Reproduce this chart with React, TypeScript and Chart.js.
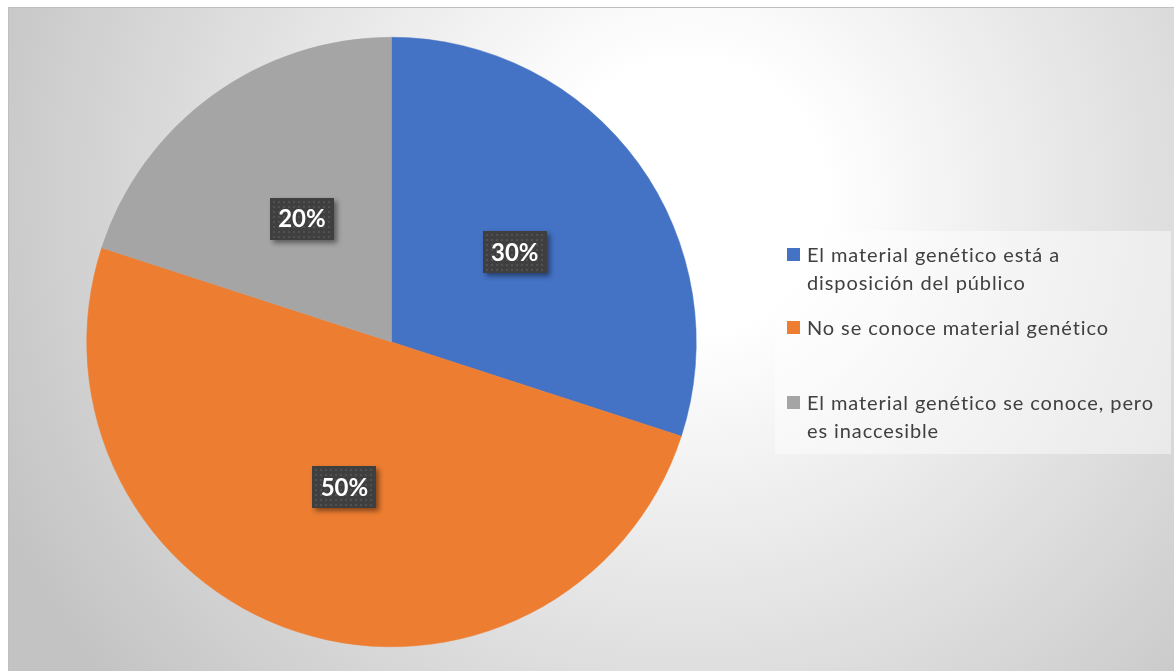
import React, { useEffect, useRef } from "react";
import { Chart, registerables } from "chart.js";

Chart.register(...registerables);

const categories: string[][] = [
  ["El material genético está a", "disposición del público"],
  ["No se conoce material genético"],
  ["El material genético se conoce, pero", "es inaccesible"],
];
const values: number[] = [30, 50, 20];
const percentLabels: string[] = ["30%", "50%", "20%"];
const colors: string[] = ["#4472C4", "#ED7D31", "#A5A5A5"];

const FONT = "Lato, 'Open Sans', sans-serif";

const bgPlugin = {
  id: "bgPlugin",
  beforeDraw(chart: any) {
    const { ctx, width, height } = chart;
    ctx.save();
    const g = ctx.createRadialGradient(680, 190, 0, 680, 190, 760);
    g.addColorStop(0, "#ffffff");
    g.addColorStop(0.18, "#ffffff");
    g.addColorStop(1, "#c3c3c3");
    ctx.fillStyle = g;
    ctx.fillRect(0, 0, width, height);
    ctx.strokeStyle = "#bfbfbf";
    ctx.lineWidth = 1;
    ctx.strokeRect(0.5, 0.5, width, height);
    ctx.restore();
  },
};

const labelPlugin = {
  id: "labelPlugin",
  afterDatasetsDraw(chart: any) {
    const { ctx } = chart;
    const meta = chart.getDatasetMeta(0);
    ctx.save();
    meta.data.forEach((arc: any, i: number) => {
      const { x, y, startAngle, endAngle, outerRadius } = arc.getProps(
        ["x", "y", "startAngle", "endAngle", "outerRadius"],
        true
      );
      const mid = (startAngle + endAngle) / 2;
      const r = outerRadius * 0.5;
      const cx = x + Math.cos(mid) * r;
      const cy = y + Math.sin(mid) * r;
      const w = 64;
      const h = 42;
      const bx = Math.round(cx - w / 2);
      const by = Math.round(cy - h / 2);
      ctx.save();
      ctx.shadowColor = "rgba(0,0,0,0.45)";
      ctx.shadowBlur = 5;
      ctx.shadowOffsetX = 3;
      ctx.shadowOffsetY = 3;
      ctx.fillStyle = "#3f3f3f";
      ctx.fillRect(bx, by, w, h);
      ctx.restore();
      ctx.fillStyle = "#515151";
      for (let yy = by + 3; yy < by + h - 1; yy += 5) {
        for (let xx = bx + 3; xx < bx + w - 1; xx += 5) {
          ctx.fillRect(xx, yy, 2, 2);
        }
      }
      ctx.fillStyle = "#ffffff";
      ctx.font = `bold 24px ${FONT}`;
      ctx.textAlign = "center";
      ctx.textBaseline = "middle";
      ctx.fillText(percentLabels[i], cx, cy + 1);
    });
    ctx.restore();
  },
};

const legendPlugin = {
  id: "legendPlugin",
  afterDraw(chart: any) {
    const { ctx } = chart;
    ctx.save();
    ctx.fillStyle = "rgba(255,255,255,0.45)";
    ctx.fillRect(767, 224, 396, 223);
    const itemBaselines = [255, 328, 403];
    const lineH = 28;
    ctx.font = `20px ${FONT}`;
    (ctx as any).letterSpacing = "0.9px";
    ctx.textAlign = "left";
    ctx.textBaseline = "alphabetic";
    categories.forEach((lines, i) => {
      const base = itemBaselines[i];
      ctx.fillStyle = colors[i];
      ctx.fillRect(779, base - 14, 13, 13);
      ctx.fillStyle = "#404040";
      lines.forEach((ln, j) => {
        ctx.fillText(ln, 799, base + j * lineH);
      });
    });
    ctx.restore();
  },
};

export default function App() {
  const ref = useRef<HTMLCanvasElement | null>(null);
  useEffect(() => {
    if (!ref.current) return;
    const chart = new Chart(ref.current, {
      type: "pie",
      data: {
        labels: categories.map((l) => l.join(" ")),
        datasets: [
          {
            data: values,
            backgroundColor: colors,
            borderColor: colors,
            borderWidth: 0.5,
          },
        ],
      },
      options: {
        animation: false,
        responsive: true,
        maintainAspectRatio: false,
        layout: { padding: { left: 78, right: 477, top: 30, bottom: 24 } },
        plugins: {
          legend: { display: false },
          tooltip: { enabled: false },
        },
      },
      plugins: [bgPlugin, labelPlugin, legendPlugin],
    });
    return () => chart.destroy();
  }, []);
  return (
    <div style={{ position: "absolute", left: 8, top: 7, width: 1166, height: 664 }}>
      <canvas ref={ref} />
    </div>
  );
}
